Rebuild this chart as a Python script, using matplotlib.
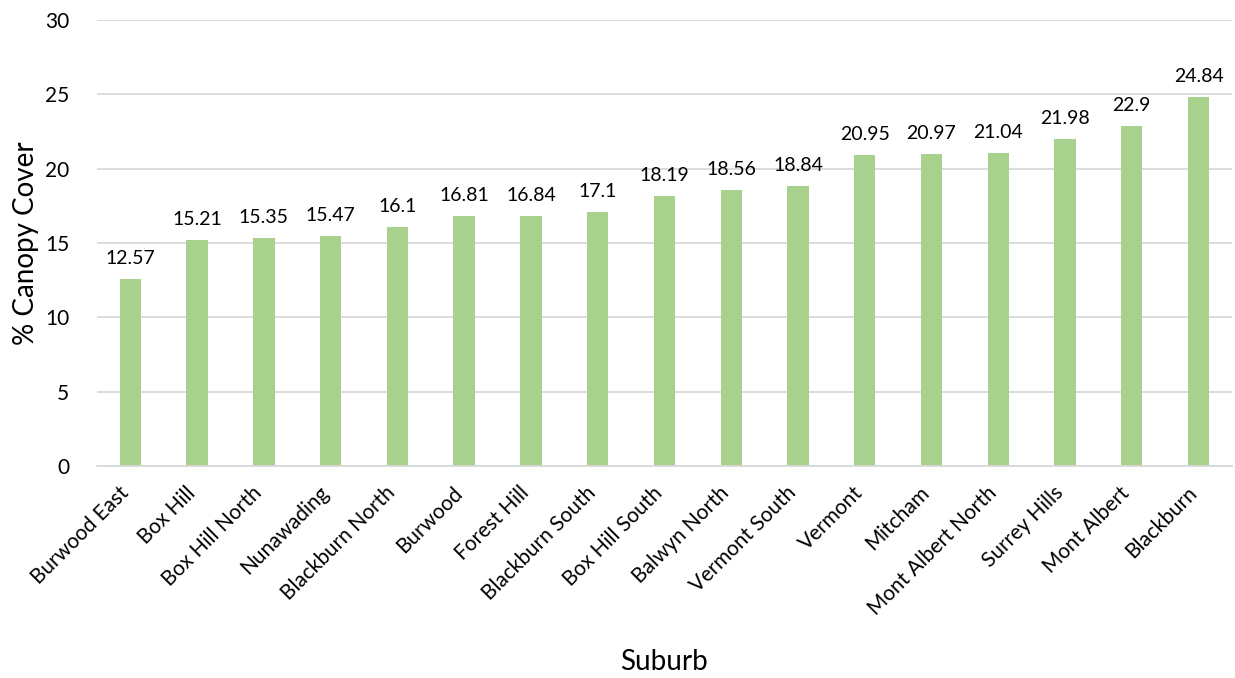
import matplotlib.pyplot as plt
import matplotlib.transforms as mtransforms
import numpy as np

plt.rcParams['font.family'] = ['Lato', 'DejaVu Sans']

suburbs = ['Burwood East', 'Box Hill', 'Box Hill North', 'Nunawading', 'Blackburn North',
           'Burwood', 'Forest Hill', 'Blackburn South', 'Box Hill South', 'Balwyn North',
           'Vermont South', 'Vermont', 'Mitcham', 'Mont Albert North', 'Surrey Hills',
           'Mont Albert', 'Blackburn']
canopy = [12.57, 15.21, 15.35, 15.47, 16.1, 16.81, 16.84, 17.1, 18.19, 18.56,
          18.84, 20.95, 20.97, 21.04, 21.98, 22.9, 24.84]

fig = plt.figure(figsize=(12.35, 6.78), dpi=100)
ax = fig.add_axes([0.0785, 0.3127, 0.919, 0.6578])

x = np.arange(len(suburbs))
ax.bar(x, canopy, width=0.32, color='#A9D18E', zorder=2)
for xi, v in zip(x, canopy):
    ax.text(xi, v + 0.8, f'{v:g}', ha='center', va='bottom', fontsize=14, color='#000000')

ax.set_xlim(-0.5, len(suburbs) - 0.5)
ax.set_ylim(0, 30)
ax.set_yticks(range(0, 31, 5))
ax.yaxis.grid(True, color='#D9D9D9', linewidth=1.3, zorder=0)
ax.set_axisbelow(True)
for s in ['top', 'right', 'left']:
    ax.spines[s].set_visible(False)
ax.spines['bottom'].set_color('#D9D9D9')
ax.spines['bottom'].set_linewidth(1.3)
ax.tick_params(axis='both', length=0, labelsize=15)
ax.tick_params(axis='y', pad=20)
ax.set_xticks(x)
ax.set_xticklabels(suburbs, rotation=45, ha='right', rotation_mode='anchor')
ax.tick_params(axis='x', pad=12)
# nudge the slanted labels left a bit, like the original
shift = mtransforms.ScaledTranslation(-12 / 100, 0, fig.dpi_scale_trans)
for lbl in ax.get_xticklabels():
    lbl.set_transform(lbl.get_transform() + shift)
ax.set_ylabel('% Canopy Cover', fontsize=20, labelpad=4)
ax.set_xlabel('Suburb', fontsize=20)
ax.xaxis.set_label_coords(0.5, -0.41)

fig.savefig('out.png', dpi=100)
